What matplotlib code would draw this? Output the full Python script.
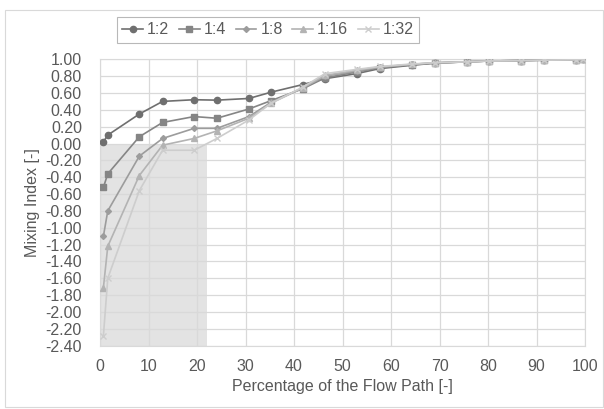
import matplotlib
matplotlib.use('Agg')
import matplotlib.pyplot as plt
from matplotlib.patches import Rectangle

plt.rcParams['font.family'] = ['Liberation Sans', 'DejaVu Sans']

# x positions along the flow path (%)
x_pos = [0.7, 1.6, 8.1, 12.9, 19.4, 24.1, 30.7, 35.3, 41.8, 46.4,
         52.9, 57.7, 64.4, 69.1, 75.6, 80.2, 86.9, 91.5, 98.1, 99.6]

mix_1_2 = [0.02, 0.10, 0.35, 0.50, 0.52, 0.515, 0.535, 0.61, 0.70, 0.77,
           0.83, 0.89, 0.93, 0.955, 0.97, 0.98, 0.985, 0.99, 0.995, 1.0]
mix_1_4 = [-0.52, -0.36, 0.08, 0.25, 0.32, 0.30, 0.41, 0.51, 0.65, 0.78,
           0.85, 0.90, 0.935, 0.955, 0.97, 0.98, 0.985, 0.99, 0.995, 1.0]
mix_1_8 = [-1.10, -0.80, -0.15, 0.06, 0.18, 0.18, 0.32, 0.49, 0.66, 0.80,
           0.86, 0.905, 0.94, 0.96, 0.97, 0.98, 0.985, 0.99, 0.995, 1.0]
mix_1_16 = [-1.71, -1.22, -0.38, -0.02, 0.06, 0.15, 0.30, 0.48, 0.66, 0.81,
            0.87, 0.91, 0.94, 0.96, 0.97, 0.98, 0.985, 0.99, 0.995, 1.0]
mix_1_32 = [-2.28, -1.60, -0.56, -0.08, -0.08, 0.06, 0.28, 0.48, 0.67, 0.83,
            0.88, 0.915, 0.945, 0.96, 0.97, 0.98, 0.985, 0.99, 0.995, 1.0]

labels = ['1:2', '1:4', '1:8', '1:16', '1:32']
series = [mix_1_2, mix_1_4, mix_1_8, mix_1_16, mix_1_32]
colors = ['#6f6f6f', '#858585', '#9c9c9c', '#b3b3b3', '#cdcdcd']
markers = ['o', 's', 'D', '^', 'x']
msizes = [4.5, 5, 3, 4.5, 4.5]

fig = plt.figure(figsize=(6.04, 4.09), dpi=100)
ax = fig.add_axes([0.1656, 0.155, 0.803, 0.700])

# shaded zone
ax.add_patch(Rectangle((0, -2.4), 22, 2.4, facecolor='#e3e3e3', edgecolor='none', zorder=0))

for y, lab, c, m, ms in zip(series, labels, colors, markers, msizes):
    ax.plot(x_pos, y, color=c, marker=m, markersize=ms, linewidth=1.2, label=lab, zorder=3)

ax.set_xlim(0, 100)
ax.set_ylim(-2.4, 1.0)
ax.set_xticks(range(0, 101, 10))
yt = [round(-2.4 + 0.2 * i, 2) for i in range(18)]
ax.set_yticks(yt)
ax.set_yticklabels(['{:.2f}'.format(v) for v in yt])
ax.grid(True, color='#d9d9d9', linewidth=0.9, zorder=1)
ax.set_axisbelow(True)
for s in ax.spines.values():
    s.set_color('#d9d9d9')
ax.tick_params(length=0, labelsize=11.5, colors='#595959')
ax.tick_params(axis='y', pad=13)
ax.tick_params(axis='x', pad=10)
ax.set_xlabel('Percentage of the Flow Path [-]', fontsize=11.5, color='#595959', labelpad=3)
ax.set_ylabel('Mixing Index [-]', fontsize=11.5, color='#595959', labelpad=4)

leg = fig.legend(loc='center', bbox_to_anchor=(268 / 604, 1 - 30 / 409), ncol=5,
                 fontsize=11.5, frameon=True, fancybox=False, handlelength=1.3,
                 handletextpad=0.25, columnspacing=0.6, borderpad=0.35)
leg.get_frame().set_edgecolor('#a6a6a6')
leg.get_frame().set_linewidth(0.8)
for t in leg.get_texts():
    t.set_color('#595959')

fig.patches.append(Rectangle((0.008, 0.005), 0.99, 0.97, transform=fig.transFigure,
                             facecolor='none', edgecolor='#d9d9d9', linewidth=0.8))

fig.savefig('out.png', dpi=100)
